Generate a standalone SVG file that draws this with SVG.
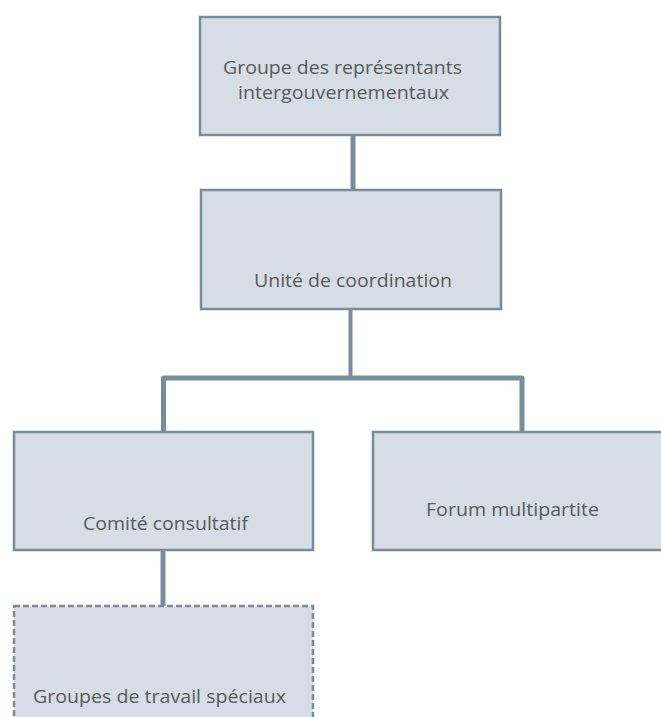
<svg xmlns="http://www.w3.org/2000/svg" width="661" height="717" viewBox="0 0 661 717">
<style>
.box{fill:#D6DDE4;stroke:#788C99;stroke-width:2.5}
.dash{stroke-dasharray:6 3}
.lbl{font-family:"Open Sans","Liberation Sans",Arial,sans-serif;font-size:18.5px;fill:#595959}
.con{stroke:#788C99;fill:none;stroke-width:5}
</style>
<rect width="661" height="717" fill="#ffffff"/>
<g id="connectors">
<line class="con" x1="353" y1="135" x2="353" y2="190"/>
<line class="con" x1="350.5" y1="309" x2="350.5" y2="378" style="stroke-width:4"/>
<path class="con" d="M163.5 432 V378 H522 V432" stroke-linejoin="round"/>
<line class="con" x1="163" y1="550" x2="163" y2="606"/>
</g>
<g id="n1">
<rect class="box" x="200" y="17" width="300" height="118"/>
<text class="lbl" x="223" y="74" textLength="239" lengthAdjust="spacingAndGlyphs">Groupe des représentants</text>
<text class="lbl" x="238" y="99" textLength="211" lengthAdjust="spacingAndGlyphs">intergouvernementaux</text>
</g>
<g id="n2">
<rect class="box" x="201" y="190" width="300" height="119"/>
<text class="lbl" x="254" y="287" textLength="198" lengthAdjust="spacingAndGlyphs">Unité de coordination</text>
</g>
<g id="n3">
<rect class="box" x="14" y="432" width="299" height="118"/>
<text class="lbl" x="83" y="530" textLength="165" lengthAdjust="spacingAndGlyphs">Comité consultatif</text>
</g>
<g id="n4">
<rect class="box" x="373" y="432" width="300" height="118"/>
<text class="lbl" x="426" y="516" textLength="173" lengthAdjust="spacingAndGlyphs">Forum multipartite</text>
</g>
<g id="n5">
<rect class="box dash" x="14" y="606" width="299" height="125"/>
<text class="lbl" x="33" y="703" textLength="253" lengthAdjust="spacingAndGlyphs">Groupes de travail spéciaux</text>
</g>
</svg>
